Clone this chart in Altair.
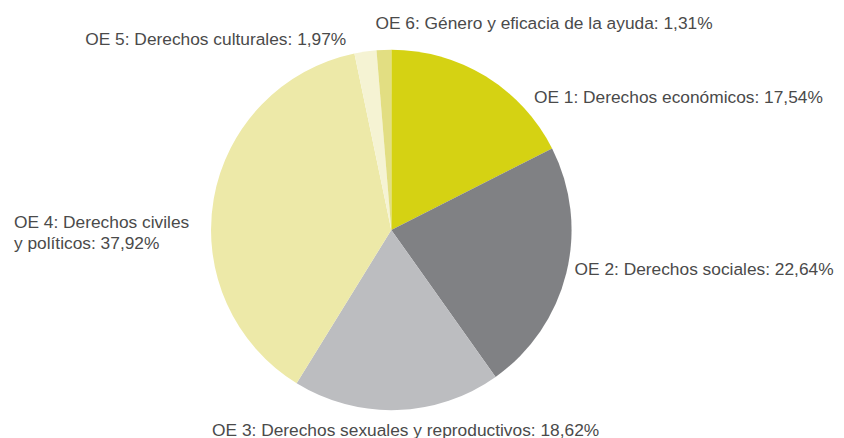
import altair as alt
import pandas as pd

categories = ["OE 1", "OE 2", "OE 3", "OE 4", "OE 5", "OE 6"]
values = [17.54, 22.64, 18.62, 37.92, 1.97, 1.31]
colors = ["#d5d213", "#808184", "#bcbdc0", "#ede9a8", "#f5f3d3", "#e2de82"]
labels = [
    ["OE 1: Derechos económicos: 17,54%"],
    ["OE 2: Derechos sociales: 22,64%"],
    ["OE 3: Derechos sexuales y reproductivos: 18,62%"],
    ["OE 4: Derechos civiles", "y políticos: 37,92%"],
    ["OE 5: Derechos culturales: 1,97%"],
    ["OE 6: Género y eficacia de la ayuda: 1,31%"],
]

df = pd.DataFrame({"cat": categories, "val": values, "idx": list(range(len(categories)))})

CX, CY, R = 387, 222, 182

pie = alt.Chart(df).mark_arc(radius=R, x=CX, y=CY, stroke=None).encode(
    theta=alt.Theta("val:Q", stack=True),
    order=alt.Order("idx:Q"),
    color=alt.Color("cat:N", scale=alt.Scale(domain=categories, range=colors), legend=None),
)

# label anchor positions (annotation placement)
label_pos = [
    (531, 89, "left"),
    (572, 262, "left"),
    (206, 425, "left"),
    (6, 215, "left"),
    (78, 30, "left"),
    (371, 14, "left"),
]

layers = [pie]
for lab, (x, y, al) in zip(labels, label_pos):
    t = alt.Chart(pd.DataFrame({"t": [lab]})).mark_text(
        align=al, baseline="middle", fontSize=17.5, font="Liberation Sans",
        color="#4a4a4a", lineHeight=21, x=x, y=y,
    ).encode(text="t:N")
    layers.append(t)

chart = alt.layer(*layers).properties(
    width=836, height=430, padding=0,
    autosize=alt.AutoSizeParams(type="none"),
).configure_view(stroke=None)

chart.save("out.html", embed_options={"renderer": "svg", "actions": False})
